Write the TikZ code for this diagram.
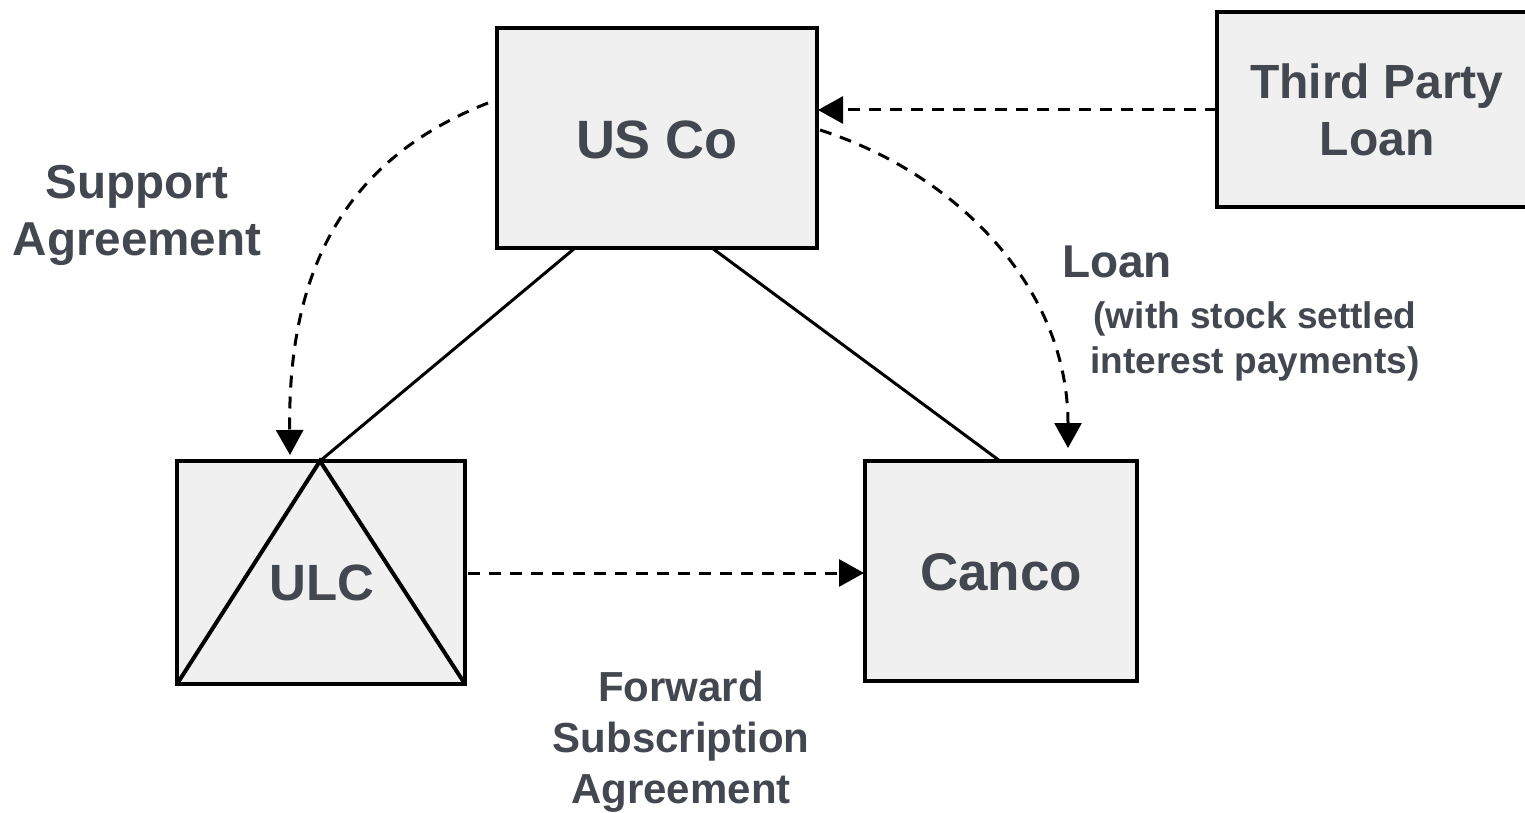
\documentclass[tikz,border=0pt]{standalone}
\usepackage{fontspec}
\setmainfont{Liberation Sans}
\usetikzlibrary{arrows.meta}
\definecolor{txt}{HTML}{43474F}
\definecolor{boxfill}{HTML}{F0F0F0}
\tikzset{
  entity/.style={draw=black, line width=2pt, fill=boxfill},
  lbl/.style={text=txt, font=\bfseries, align=center, inner sep=0pt},
  dasharrow/.style={line width=1.5pt, dash pattern=on 6pt off 4.5pt, -{Triangle[length=12.5pt,width=13.5pt]}},
  link/.style={line width=1.5pt}
}
\begin{document}
\begin{tikzpicture}[x=0.5pt, y=-0.5pt]
\useasboundingbox (0,0) rectangle (1525,813);
% boxes
\draw[entity] (497,28) rectangle (817,248);
\draw[entity] (1217,12) rectangle (1540,207);
\draw[entity] (177,461) rectangle (465,684);
\draw[entity] (865,461) rectangle (1137,681);
% anchor coordinates
\coordinate (usco-bl) at (575,248);
\coordinate (usco-br) at (712,248);
\coordinate (ulc-top) at (320,461);
\coordinate (ulc-bl) at (177,684);
\coordinate (ulc-br) at (465,684);
\coordinate (canco-top) at (1000,461);
\coordinate (tp-w) at (1217,110);
\coordinate (usco-e) at (818,110);
\coordinate (usco-wsrc) at (488,103);
\coordinate (usco-esrc) at (820,130);
\coordinate (ulc-in) at (290,455);
\coordinate (canco-in) at (1068,448);
\coordinate (ulc-e) at (468,573);
\coordinate (canco-w) at (864,573);
% ULC triangle
\draw[line width=2pt, line join=miter] (ulc-bl) -- (ulc-top) -- (ulc-br);
% ownership lines
\draw[link] (usco-bl) -- (ulc-top);
\draw[link] (usco-br) -- (canco-top);
% agreements
\draw[dasharrow] (tp-w) -- (usco-e);
\draw[dasharrow] (usco-wsrc) .. controls (330,165) and (288,290) .. (ulc-in);
\draw[dasharrow] (usco-esrc) .. controls (960,175) and (1068,290) .. (canco-in);
\draw[dasharrow] (ulc-e) -- (canco-w);
% labels
\node[lbl, font=\bfseries\fontsize{27}{30}\selectfont] (uscol) at (657,140) {US Co};
\node[lbl, font=\bfseries\fontsize{24}{28.5}\selectfont] (tpl) at (1377,110) {Third Party\\Loan};
\node[lbl, font=\bfseries\fontsize{25.5}{30}\selectfont] (ulcl) at (322,583) {ULC};
\node[lbl, font=\bfseries\fontsize{26.5}{30}\selectfont] (cancol) at (1001,572) {Canco};
\node[lbl, font=\bfseries\fontsize{23.8}{28.5}\selectfont] (supl) at (137,215) {Support\\Agreement};
\node[lbl, font=\bfseries\fontsize{23}{28}\selectfont] (loanl) at (1117,262) {Loan};
\node[lbl, font=\bfseries\fontsize{18.5}{22.5}\selectfont] (loannote) at (1255,341) {(with stock settled\\interest payments)};
\node[lbl, font=\bfseries\fontsize{21}{25.5}\selectfont] (fsal) at (681,742) {Forward\\Subscription\\Agreement};
\end{tikzpicture}
\end{document}
